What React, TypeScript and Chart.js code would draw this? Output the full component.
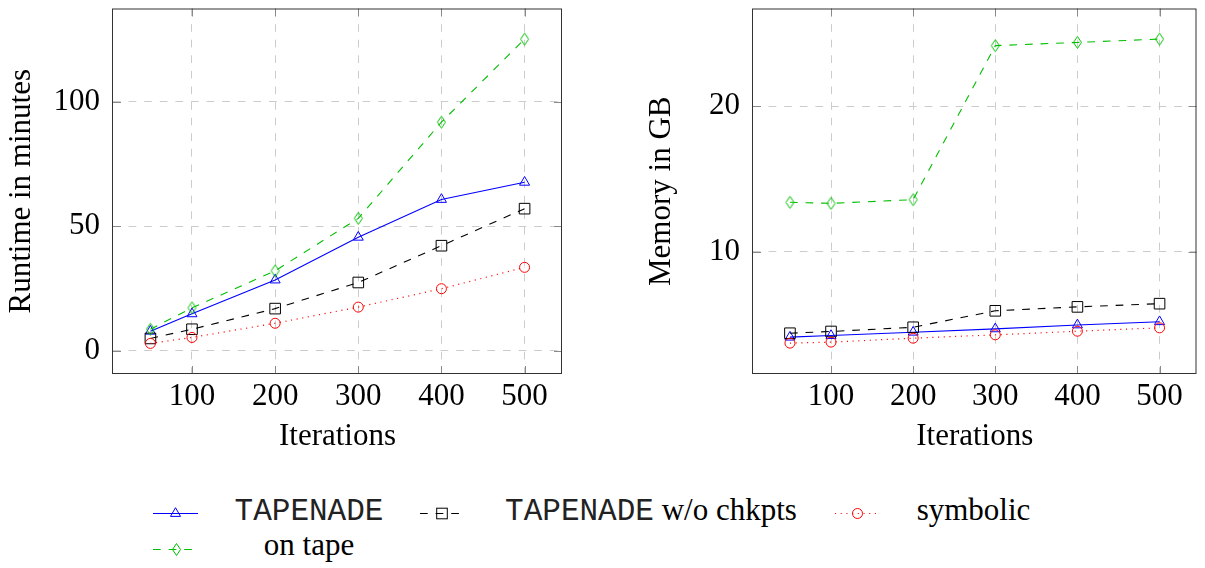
import React, { useEffect, useRef } from "react";
import { Chart, registerables } from "chart.js";

Chart.register(...registerables);

// ---------- data ----------
const iterations = [50, 100, 200, 300, 400, 500];
const xTickValues = [100, 200, 300, 400, 500];

const runtimeTapenade = [7.8, 14.8, 28.4, 45.6, 60.8, 67.7];
const runtimeNoChkpts = [4.9, 8.6, 16.9, 27.4, 42.2, 57.1];
const runtimeSymbolic = [2.9, 5.3, 11.0, 17.5, 24.9, 33.5];
const runtimeOnTape = [8.6, 17.2, 32.1, 53.2, 91.9, 125.3];
const runtimeTicks = [0, 50, 100];

const memoryTapenade = [4.13, 4.24, 4.47, 4.7, 4.97, 5.19];
const memoryNoChkpts = [4.4, 4.52, 4.81, 5.94, 6.21, 6.43];
const memorySymbolic = [3.72, 3.79, 4.06, 4.29, 4.54, 4.77];
const memoryOnTape = [13.39, 13.32, 13.57, 24.15, 24.37, 24.6];
const memoryTicks = [10, 20];

const seriesLabels = ["TAPENADE", "TAPENADE w/o chkpts", "symbolic", "on tape"];
const xTitle = "Iterations";
const runtimeTitle = "Runtime in minutes";
const memoryTitle = "Memory in GB";

// ---------- styles ----------
const SERIF = "'Liberation Serif', 'Times New Roman', serif";
const MONO = "'Liberation Mono', 'Courier New', monospace";
const FS = 31;
const BLUE = "#0000ff";
const BLACK = "#000000";
const RED = "#ff0000";
const GREEN = "#00bf00";
const DASH = [7.7, 7.9];
const DOT = [1.1, 4.6];

function makeDiamond(color: string): HTMLCanvasElement {
  const c = document.createElement("canvas");
  c.width = 11;
  c.height = 15;
  const ctx = c.getContext("2d")!;
  ctx.strokeStyle = color;
  ctx.lineWidth = 1;
  ctx.beginPath();
  ctx.moveTo(5.5, 1.5);
  ctx.lineTo(9.5, 7.5);
  ctx.lineTo(5.5, 13.5);
  ctx.lineTo(1.5, 7.5);
  ctx.closePath();
  ctx.stroke();
  return c;
}

const framePlugin = {
  id: "pgfFrame",
  beforeDatasetsDraw(chart: any) {
    const { ctx, chartArea: a, scales } = chart;
    ctx.save();
    // tick marks (inside, both sides)
    ctx.strokeStyle = "#8a8a8a";
    ctx.lineWidth = 1;
    ctx.beginPath();
    for (const t of scales.x.ticks) {
      const px = Math.round(scales.x.getPixelForValue(t.value)) + 0.5;
      ctx.moveTo(px, a.bottom);
      ctx.lineTo(px, a.bottom - 8);
      ctx.moveTo(px, a.top);
      ctx.lineTo(px, a.top + 8);
    }
    for (const t of scales.y.ticks) {
      const py = Math.round(scales.y.getPixelForValue(t.value)) + 0.5;
      ctx.moveTo(a.left, py);
      ctx.lineTo(a.left + 8, py);
      ctx.moveTo(a.right, py);
      ctx.lineTo(a.right - 8, py);
    }
    ctx.stroke();
    // box
    ctx.strokeStyle = "#333333";
    ctx.lineWidth = 1;
    ctx.strokeRect(a.left - 0.5, a.top + 0.5, a.right - a.left, a.bottom - a.top - 1);
    ctx.restore();
  },
};

function pts(values: number[]) {
  return iterations.map((x, i) => ({ x, y: values[i] }));
}

function buildConfig(
  values: number[][],
  yMin: number,
  yMax: number,
  yTicks: number[],
  yTitle: string,
  padRight: number,
  diamond: HTMLCanvasElement
): any {
  const [tap, noChk, sym, onTape] = values;
  const font = { family: SERIF, size: FS };
  return {
    type: "line",
    data: {
      datasets: [
        {
          label: seriesLabels[0],
          data: pts(tap),
          borderColor: BLUE,
          borderWidth: 1.1,
          pointStyle: "triangle",
          pointRadius: 5.8,
          pointBorderColor: BLUE,
          pointBackgroundColor: "rgba(0,0,0,0)",
          pointBorderWidth: 1,
          order: 4,
        },
        {
          label: seriesLabels[1],
          data: pts(noChk),
          borderColor: BLACK,
          borderWidth: 1.1,
          borderDash: DASH,
          pointStyle: "rect",
          pointRadius: 7.5,
          pointBorderColor: BLACK,
          pointBackgroundColor: "rgba(0,0,0,0)",
          pointBorderWidth: 1,
          order: 3,
        },
        {
          label: seriesLabels[2],
          data: pts(sym),
          borderColor: RED,
          borderWidth: 1.2,
          borderDash: DOT,
          pointStyle: "circle",
          pointRadius: 5,
          pointBorderColor: RED,
          pointBackgroundColor: "rgba(0,0,0,0)",
          pointBorderWidth: 1,
          order: 2,
        },
        {
          label: seriesLabels[3],
          data: pts(onTape),
          borderColor: GREEN,
          borderWidth: 1.1,
          borderDash: DASH,
          pointStyle: diamond,
          pointRadius: 6,
          pointBorderColor: GREEN,
          pointBackgroundColor: "rgba(0,0,0,0)",
          pointBorderWidth: 1,
          order: 1,
        },
      ],
    },
    options: {
      animation: false,
      responsive: false,
      events: [],
      layout: { padding: { left: 0, top: 3, right: padRight, bottom: 0 } },
      plugins: { legend: { display: false }, tooltip: { enabled: false } },
      elements: { line: { tension: 0, fill: false } },
      scales: {
        x: {
          type: "linear",
          min: 5,
          max: 545,
          bounds: "data",
          afterBuildTicks: (s: any) => {
            s.ticks = xTickValues.map((v) => ({ value: v }));
          },
          afterFit: (s: any) => {
            s.height = 86;
            s.paddingLeft = 0;
            s.paddingRight = 0;
            s.paddingTop = 0;
            s.paddingBottom = 0;
          },
          ticks: {
            font,
            color: "#000",
            padding: 4,
            maxRotation: 0,
            autoSkip: false,
            callback: (v: any) => String(v),
          },
          grid: { color: "#cccccc", lineWidth: 1, drawTicks: false },
          border: { display: false, dash: DASH },
          title: {
            display: true,
            text: xTitle,
            font,
            color: "#000",
            padding: { top: 0, bottom: 5 },
          },
        },
        y: {
          type: "linear",
          min: yMin,
          max: yMax,
          bounds: "data",
          afterBuildTicks: (s: any) => {
            s.ticks = yTicks.map((v) => ({ value: v }));
          },
          afterFit: (s: any) => {
            s.width = 113;
            s.paddingLeft = 0;
            s.paddingRight = 0;
            s.paddingTop = 0;
            s.paddingBottom = 0;
          },
          ticks: {
            font,
            color: "#000",
            padding: 13,
            autoSkip: false,
            callback: (v: any) => String(v),
          },
          grid: { color: "#cccccc", lineWidth: 1, drawTicks: false },
          border: { display: false, dash: DASH },
          title: {
            display: true,
            text: yTitle,
            font,
            color: "#000",
            padding: { top: 3, bottom: 0 },
          },
        },
      },
    },
    plugins: [framePlugin],
  };
}

export default function App() {
  const leftRef = useRef<HTMLCanvasElement>(null);
  const rightRef = useRef<HTMLCanvasElement>(null);

  useEffect(() => {
    const diamond = makeDiamond(GREEN);
    const c1 = new Chart(
      leftRef.current!,
      buildConfig(
        [runtimeTapenade, runtimeNoChkpts, runtimeSymbolic, runtimeOnTape],
        -9.4,
        137.6,
        runtimeTicks,
        runtimeTitle,
        38,
        diamond
      )
    );
    const c2 = new Chart(
      rightRef.current!,
      buildConfig(
        [memoryTapenade, memoryNoChkpts, memorySymbolic, memoryOnTape],
        1.6,
        26.7,
        memoryTicks,
        memoryTitle,
        4,
        diamond
      )
    );
    return () => {
      c1.destroy();
      c2.destroy();
    };
  }, []);

  const textStyle: React.CSSProperties = {
    position: "absolute",
    fontFamily: SERIF,
    fontSize: FS,
    lineHeight: `${FS}px`,
    color: "#000",
    whiteSpace: "nowrap",
    textAlign: "center",
    width: 400,
  };
  const mono: React.CSSProperties = { fontFamily: MONO, color: "#222" };

  const r1 = 23.5;
  const r2 = 59.5;
  const tri = (cx: number, cy: number, r: number) =>
    `${cx},${cy - r} ${cx + r * 0.866},${cy + r / 2} ${cx - r * 0.866},${cy + r / 2}`;

  return (
    <div
      style={{
        position: "absolute",
        left: 0,
        top: 0,
        width: 1205,
        height: 568,
        background: "#fff",
        overflow: "hidden",
      }}
    >
      <canvas
        ref={leftRef}
        width={600}
        height={460}
        style={{ position: "absolute", left: 0, top: 0, width: 600, height: 460 }}
      />
      <canvas
        ref={rightRef}
        width={565}
        height={460}
        style={{ position: "absolute", left: 640, top: 0, width: 565, height: 460 }}
      />
      <svg
        width={1205}
        height={78}
        style={{ position: "absolute", left: 0, top: 490 }}
      >
        {/* TAPENADE */}
        <line x1={153} y1={r1} x2={198} y2={r1} stroke={BLUE} strokeWidth={1.1} />
        <polygon points={tri(175.5, r1, 5.8)} fill="none" stroke={BLUE} strokeWidth={1} />
        {/* w/o chkpts */}
        <line
          x1={420}
          y1={r1}
          x2={464}
          y2={r1}
          stroke={BLACK}
          strokeWidth={1.1}
          strokeDasharray={DASH.join(" ")}
        />
        <rect x={442 - 5.3} y={r1 - 5.3} width={10.6} height={10.6} fill="none" stroke={BLACK} strokeWidth={1} />
        {/* symbolic */}
        <line
          x1={835}
          y1={r1}
          x2={880}
          y2={r1}
          stroke={RED}
          strokeWidth={1.2}
          strokeDasharray={DOT.join(" ")}
        />
        <circle cx={857.5} cy={r1} r={5} fill="none" stroke={RED} strokeWidth={1} />
        {/* on tape */}
        <line
          x1={153}
          y1={r2}
          x2={198}
          y2={r2}
          stroke={GREEN}
          strokeWidth={1.1}
          strokeDasharray={DASH.join(" ")}
        />
        <polygon
          points={`176.5,${r2 - 6} 180.5,${r2} 176.5,${r2 + 6} 172.5,${r2}`}
          fill="none"
          stroke={GREEN}
          strokeWidth={1}
        />
      </svg>
      <div style={{ ...textStyle, left: 309 - 200, top: 494 }}>
        <span style={mono}>{seriesLabels[0]}</span>
      </div>
      <div style={{ ...textStyle, left: 651 - 200, top: 494 }}>
        <span style={mono}>TAPENADE</span> w/o chkpts
      </div>
      <div style={{ ...textStyle, left: 973.5 - 200, top: 494 }}>{seriesLabels[2]}</div>
      <div style={{ ...textStyle, left: 309 - 200, top: 529 }}>{seriesLabels[3]}</div>
    </div>
  );
}
